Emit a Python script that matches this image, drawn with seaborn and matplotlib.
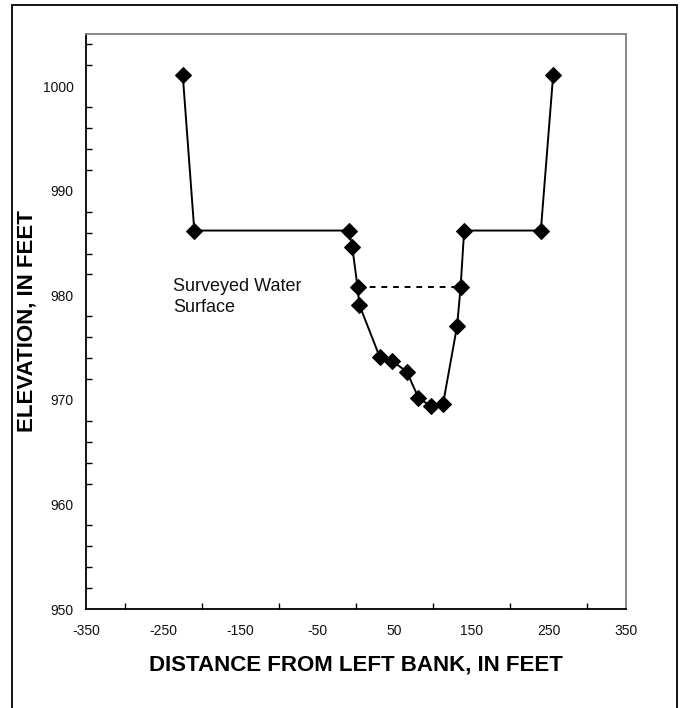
import matplotlib
matplotlib.use("Agg")
import matplotlib.pyplot as plt
from matplotlib.patches import Rectangle
from matplotlib.ticker import MultipleLocator, FixedLocator
import seaborn as sns
import pandas as pd

# ---- data ----
distance = [-224.6, -209.6, -9.4, -4.8, 2.0, 4.3, 30.8, 47.2, 65.9, 80.9,
            96.9, 112.8, 131.1, 135.6, 140.2, 239.6, 255.6]
elevation = [1001.1, 986.2, 986.2, 984.6, 980.8, 979.1, 974.1, 973.7, 972.7,
             970.2, 969.4, 969.6, 977.1, 980.8, 986.2, 986.2, 1001.1]
water_x = [2.0, 135.6]
water_y = [980.8, 980.8]
x_ticks = [-350, -250, -150, -50, 50, 150, 250, 350]
y_ticks = [950, 960, 970, 980, 990, 1000]
annotation = "Surveyed Water\nSurface"
x_title = "DISTANCE FROM LEFT BANK, IN FEET"
y_title = "ELEVATION, IN FEET"

sns.set_style("white")
plt.rcParams["font.family"] = ["Liberation Sans", "DejaVu Sans"]

W, H = 684, 708
fig = plt.figure(figsize=(W / 100, H / 100), dpi=100)
ax = fig.add_axes([86 / W, 1 - 609 / H, 540 / W, (609 - 34) / H])

df = pd.DataFrame({"x": distance, "y": elevation})
sns.lineplot(data=df, x="x", y="y", sort=False, estimator=None, ax=ax,
             color="black", linewidth=1.4, marker="D", markersize=8.5,
             markeredgecolor="black", markerfacecolor="black")
wf = pd.DataFrame({"x": water_x, "y": water_y})
sns.lineplot(data=wf, x="x", y="y", sort=False, estimator=None, ax=ax,
             color="black", linewidth=1.4, linestyle=(0, (3, 3)))

ax.set_xlim(-350, 350)
ax.set_ylim(950, 1005)
ax.xaxis.set_major_locator(FixedLocator(x_ticks))
ax.xaxis.set_minor_locator(MultipleLocator(50))
ax.yaxis.set_major_locator(FixedLocator(y_ticks))
ax.yaxis.set_minor_locator(MultipleLocator(2))
ax.set_xticklabels([str(v) for v in x_ticks])
ax.set_yticklabels([str(v) for v in y_ticks])
ax.tick_params(axis="both", which="major", direction="inout", length=8,
               width=1, color="black", labelsize=10, labelcolor="#111111")
ax.tick_params(axis="x", which="major", pad=6.5)
ax.tick_params(axis="y", which="major", pad=5)
ax.tick_params(axis="both", which="minor", direction="in", length=4,
               width=1, color="black")
ax.tick_params(axis="x", which="minor", bottom=True)
ax.tick_params(axis="y", which="minor", left=True)

for s in ["left", "bottom"]:
    ax.spines[s].set_color("black")
    ax.spines[s].set_linewidth(1.3)
for s in ["top", "right"]:
    ax.spines[s].set_color("#808080")
    ax.spines[s].set_linewidth(1.3)

ax.set_xlabel(x_title, fontsize=16, fontweight="bold", labelpad=12,
              color="black")
ax.set_ylabel(y_title, fontsize=16, fontweight="bold", labelpad=4,
              color="black")

ax.text(-237.6, 981.7, annotation, fontsize=13, va="top", ha="left",
        linespacing=1.35, color="#111111")

fig.patches.append(Rectangle((12 / W, -0.02), 665 / W, 1 - 5 / H + 0.02,
                             transform=fig.transFigure, fill=False,
                             edgecolor="black", linewidth=1.3))

fig.savefig("out.png", dpi=100)
